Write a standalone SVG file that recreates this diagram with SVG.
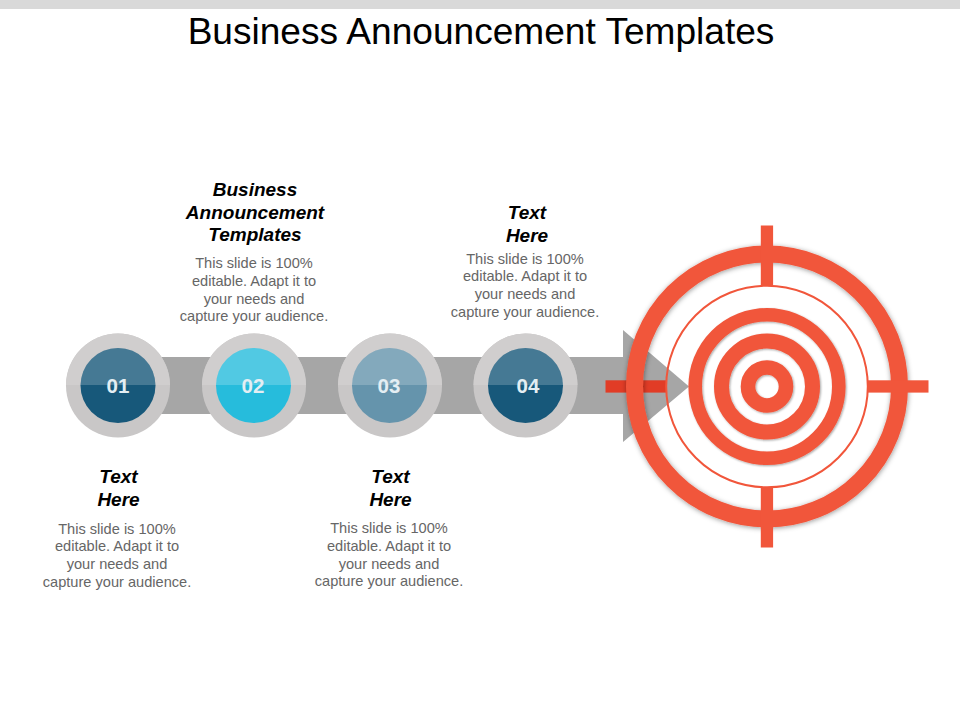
<svg xmlns="http://www.w3.org/2000/svg" width="960" height="720" viewBox="0 0 960 720">
<style>
text{font-family:"Liberation Sans",Arial,sans-serif;text-anchor:middle}
.t{font-size:37.1px;fill:#000}
.h{font-size:19px;font-weight:bold;font-style:italic;fill:#000}
.b{font-size:14.6px;fill:#666}
.n{font-size:20.500px;font-weight:bold;fill:#e4eef3}
.o{fill:#c9c7c7}
.oh{fill:#d0cece}
.red{fill:#f1563b}
.ring{fill:none;stroke:#f1563b}
.tx{fill:#fff;opacity:.2}
</style>
<defs>
<filter id="sh" x="-30%" y="-30%" width="160%" height="160%"><feDropShadow dx="0.500" dy="1" stdDeviation="2.500" flood-color="#000" flood-opacity=".4"/></filter>
<filter id="sh2" x="-60%" y="-60%" width="220%" height="220%"><feDropShadow dx="1" dy="1" stdDeviation="1" flood-color="#000" flood-opacity=".35"/></filter>
<clipPath id="top"><rect x="0" y="280" width="960" height="105"/></clipPath>
</defs>
<rect x="0" y="0" width="960" height="9" fill="#d9d9d9"/>
<text class="t" x="481" y="44">Business Announcement Templates</text>

<g id="target-back">
<circle cx="767" cy="386.5" r="132" fill="#fff"/>
</g>
<g id="arrow"><path d="M150 357H623V330L689 386.5L623 442V414H150Z" fill="#a6a6a6"/></g>
<g id="target">
<rect x="605.500" y="380.300" width="61" height="12.300" fill="#e13c26"/>
<circle class="ring" cx="767" cy="386.500" r="132.500" stroke-width="17" filter="url(#sh)"/>
<circle class="ring" cx="767" cy="386.500" r="100.800" stroke-width="2"/>
<rect class="red" x="760.800" y="225.500" width="12.300" height="60"/>
<rect class="red" x="760.800" y="487" width="12.300" height="60.500"/>
<rect class="red" x="868" y="380.300" width="60.500" height="12.300"/>
<circle class="ring" cx="767" cy="386.500" r="71.800" stroke-width="13.600" filter="url(#sh2)"/>
<circle class="ring" cx="767" cy="386.500" r="45.500" stroke-width="15" filter="url(#sh2)"/>
<circle class="ring" cx="767" cy="386.500" r="19" stroke-width="14.600" filter="url(#sh2)"/>
</g>

<g id="node-01">
<circle class="o" cx="118" cy="385.500" r="52"/>
<circle class="oh" cx="118" cy="385.500" r="52" clip-path="url(#top)"/>
<circle cx="118" cy="385.500" r="37.500" fill="#17587a"/>
<circle class="tx" cx="118" cy="385.500" r="37.500" clip-path="url(#top)"/>
<text class="n" x="118" y="392.500">01</text>
</g>
<g id="node-02">
<circle class="o" cx="254" cy="385.500" r="52"/>
<circle class="oh" cx="254" cy="385.500" r="52" clip-path="url(#top)"/>
<circle cx="253.500" cy="385.500" r="37.500" fill="#26bcdc"/>
<circle class="tx" cx="253.500" cy="385.500" r="37.500" clip-path="url(#top)"/>
<text class="n" x="253" y="392.500">02</text>
</g>
<g id="node-03">
<circle class="o" cx="390" cy="385.500" r="52"/>
<circle class="oh" cx="390" cy="385.500" r="52" clip-path="url(#top)"/>
<circle cx="389.500" cy="385.500" r="37.500" fill="#6594ac"/>
<circle class="tx" cx="389.500" cy="385.500" r="37.500" clip-path="url(#top)"/>
<text class="n" x="389" y="392.500">03</text>
</g>
<g id="node-04">
<circle class="o" cx="525.500" cy="385.500" r="52"/>
<circle class="oh" cx="525.500" cy="385.500" r="52" clip-path="url(#top)"/>
<circle cx="525.500" cy="385.500" r="37.500" fill="#17587a"/>
<circle class="tx" cx="525.500" cy="385.500" r="37.500" clip-path="url(#top)"/>
<text class="n" x="528" y="392.500">04</text>
</g>

<g id="label-01">
<text class="h" x="118.500" y="482.500">Text</text>
<text class="h" x="118.500" y="505.500">Here</text>
<text class="b" x="117" y="533.500">This slide is 100%</text>
<text class="b" x="117" y="551.300">editable. Adapt it to</text>
<text class="b" x="117" y="569">your needs and</text>
<text class="b" x="117" y="586.800">capture your audience.</text>
</g>
<g id="label-02">
<text class="h" x="255" y="195.500">Business</text>
<text class="h" x="255" y="218.500">Announcement</text>
<text class="h" x="255" y="241">Templates</text>
<text class="b" x="254" y="268">This slide is 100%</text>
<text class="b" x="254" y="285.800">editable. Adapt it to</text>
<text class="b" x="254" y="303.500">your needs and</text>
<text class="b" x="254" y="321.300">capture your audience.</text>
</g>
<g id="label-03">
<text class="h" x="390.500" y="482.500">Text</text>
<text class="h" x="390.500" y="505.500">Here</text>
<text class="b" x="389" y="533">This slide is 100%</text>
<text class="b" x="389" y="550.800">editable. Adapt it to</text>
<text class="b" x="389" y="568.500">your needs and</text>
<text class="b" x="389" y="586.300">capture your audience.</text>
</g>
<g id="label-04">
<text class="h" x="527" y="218.500">Text</text>
<text class="h" x="527" y="241.500">Here</text>
<text class="b" x="525" y="263.500">This slide is 100%</text>
<text class="b" x="525" y="281.300">editable. Adapt it to</text>
<text class="b" x="525" y="299">your needs and</text>
<text class="b" x="525" y="316.800">capture your audience.</text>
</g>
</svg>
